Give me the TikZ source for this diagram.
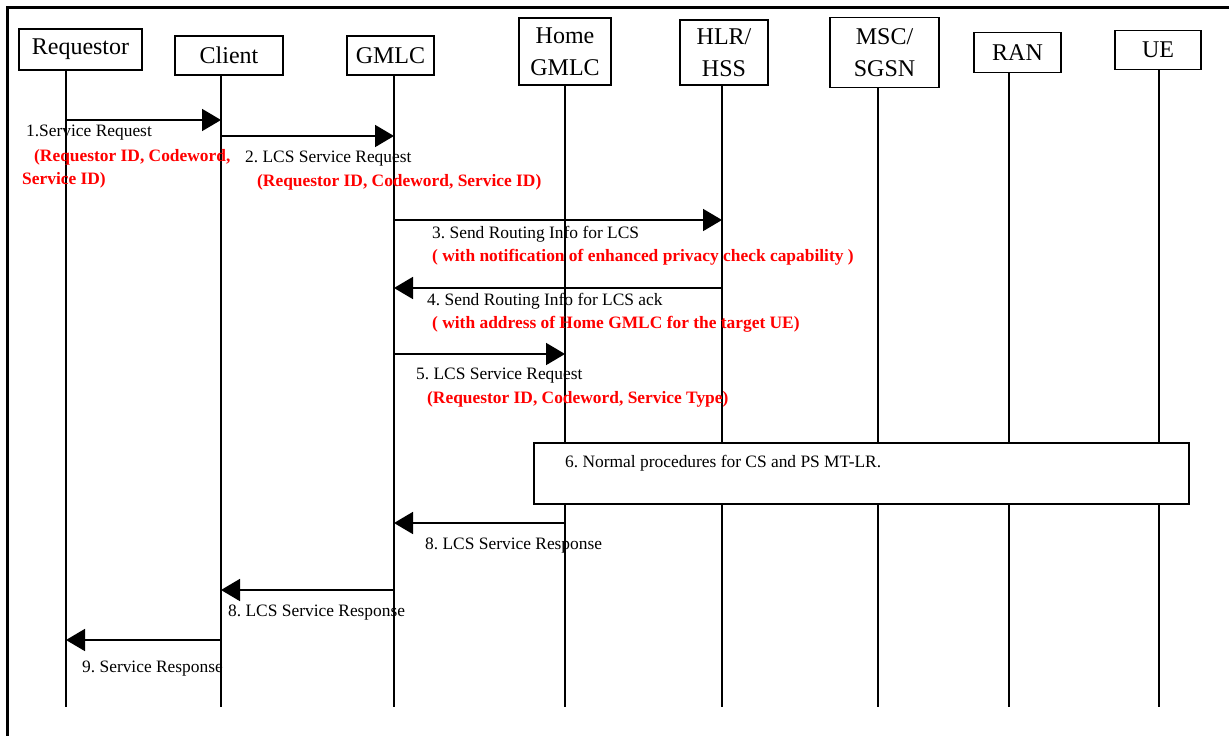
\documentclass[tikz,border=0pt]{standalone}
\usepackage{fontspec}
\setmainfont{Liberation Serif}
\usetikzlibrary{positioning,arrows.meta}
\frenchspacing
\tikzset{
  entity/.style={
    draw,
    line width=1.6pt,
    fill=white,
    inner sep=0pt,
    align=center,
    font=\fontsize{24}{32}\selectfont
  },
  lifeline/.style={line width=1.3pt},
  msg/.style={line width=1.8pt, -{Triangle[length=19pt,width=22pt]}},
  lbl/.style={anchor=west, inner sep=0pt, font=\fontsize{17.4}{22}\selectfont},
  note/.style={lbl, text=red, font=\fontsize{17.4}{22}\selectfont\bfseries},
  procbox/.style={draw, line width=1.6pt, fill=white, minimum width=655pt, minimum height=61pt}
}

\begin{document}
\begin{tikzpicture}[x=1pt,y=-1pt]
        \useasboundingbox (0,0) rectangle (1229,736);
        \draw[line width=3pt] (7,736) -- (7,7) -- (1229,7);

        \node [entity, minimum width=123pt, minimum height=41pt] (Req) at (80.5,49.5) {Requestor};
        \node [entity, minimum width=108pt, minimum height=39pt, on grid, below right=6pt and 148.5pt of Req] (Client) {Client};
        \node [entity, minimum width=87pt, minimum height=39pt, on grid, right=161.5pt of Client] (GMLC) {GMLC};
        \node [entity, minimum width=92pt, minimum height=67pt, on grid, above right=4pt and 174.5pt of GMLC] (HomeGMLC) {Home\\GMLC};
        \node [entity, minimum width=88pt, minimum height=65pt, on grid, below right=1pt and 159pt of HomeGMLC] (HLR) {HLR/\\HSS};
        \node [entity, minimum width=109pt, minimum height=70pt, on grid, right=160.5pt of HLR] (MSC) {MSC/\\SGSN};
        \node [entity, minimum width=87pt, minimum height=40pt, on grid, right=133pt of MSC] (RAN) {RAN};
        \node [entity, minimum width=86pt, minimum height=39pt, on grid, above right=2.5pt and 140.5pt of RAN] (UE) {UE};

        \coordinate (ReqEnd) at (66,707);
        \coordinate (ClientEnd) at (221,707);
        \coordinate (GMLCEnd) at (394,707);
        \coordinate (HomeGMLCEnd) at (565,707);
        \coordinate (HLREnd) at (722,707);
        \coordinate (MSCEnd) at (878,707);
        \coordinate (RANEnd) at (1009,707);
        \coordinate (UEEnd) at (1159,707);
        \draw [lifeline] (ReqEnd |- Req.south) to (ReqEnd);
        \draw [lifeline] (ClientEnd |- Client.south) to (ClientEnd);
        \draw [lifeline] (GMLCEnd |- GMLC.south) to (GMLCEnd);
        \draw [lifeline] (HomeGMLCEnd |- HomeGMLC.south) to (HomeGMLCEnd);
        \draw [lifeline] (HLREnd |- HLR.south) to (HLREnd);
        \draw [lifeline] (MSCEnd |- MSC.south) to (MSCEnd);
        \draw [lifeline] (RANEnd |- RAN.south) to (RANEnd);
        \draw [lifeline] (UEEnd |- UE.south) to (UEEnd);

        \coordinate (M1) at (0,120);
        \coordinate (M2) at (0,136);
        \coordinate (M3) at (0,220);
        \coordinate (M4) at (0,288);
        \coordinate (M5) at (0,354);
        \coordinate (M7) at (0,523);
        \coordinate (M8) at (0,590);
        \coordinate (M9) at (0,640);
        \draw [msg] (ReqEnd |- M1) to (ClientEnd |- M1);
        \draw [msg] (ClientEnd |- M2) to (GMLCEnd |- M2);
        \draw [msg] (GMLCEnd |- M3) to (HLREnd |- M3);
        \draw [msg] (HLREnd |- M4) to (GMLCEnd |- M4);
        \draw [msg] (GMLCEnd |- M5) to (HomeGMLCEnd |- M5);
        \draw [msg] (HomeGMLCEnd |- M7) to (GMLCEnd |- M7);
        \draw [msg] (GMLCEnd |- M8) to (ClientEnd |- M8);
        \draw [msg] (ClientEnd |- M9) to (ReqEnd |- M9);

        \node [lbl] (L1) at (26,133) {1.Service Request};
        \node [note] (L1a) at (34,157) {(Requestor ID, Codeword,};
        \node [note] (L1b) at (22,180) {Service ID)};
        \node [lbl] (L2) at (245,159) {2. LCS Service Request};
        \node [note] (L2a) at (257,182) {(Requestor ID, Codeword, Service ID)};
        \node [lbl] (L3) at (432,234) {3. Send Routing Info for LCS};
        \node [note] (L3a) at (432,257) {( with notification of enhanced privacy check capability )};
        \node [lbl] (L4) at (427,301) {4. Send Routing Info for LCS ack};
        \node [note] (L4a) at (432,324) {( with address of Home GMLC for the target UE)};
        \node [lbl] (L5) at (416,376) {5. LCS Service Request};
        \node [note] (L5a) at (427,399) {(Requestor ID, Codeword, Service Type)};

        \node [procbox] (Proc) at (861.5,473.5) {};
        \node [lbl] (L6) at (565,463) {6. Normal procedures for CS and PS MT-LR.};

        \node [lbl] (L7) at (425,546) {8. LCS Service Response};
        \node [lbl] (L8) at (228,613) {8. LCS Service Response};
        \node [lbl] (L9) at (82,669) {9. Service Response};
      \end{tikzpicture}
\end{document}
